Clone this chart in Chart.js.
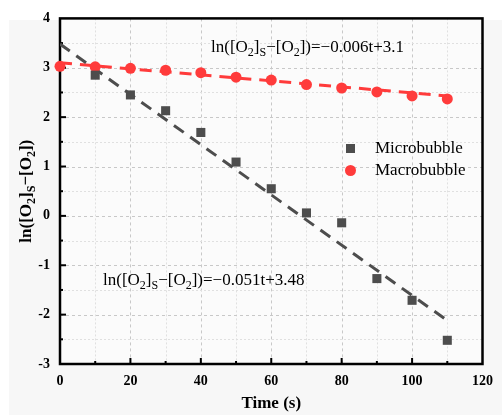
<!DOCTYPE html>
<html>
<head>
<meta charset="utf-8">
<script src="https://cdn.jsdelivr.net/npm/chart.js@4"></script>
<style>
  body { margin: 0; background: #ffffff; }
  canvas { display: block; }
</style>
</head>
<body>
<canvas id="chart" width="502" height="415"></canvas>
<script>
// values
const microTimes = [10, 20, 30, 40, 50, 60, 70, 80, 90, 100, 110];
const microValues = [2.85, 2.45, 2.13, 1.69, 1.09, 0.55, 0.06, -0.14, -1.27, -1.71, -2.52];
const macroTimes = [0, 10, 20, 30, 40, 50, 60, 70, 80, 90, 100, 110];
const macroValues = [3.03, 3.02, 2.99, 2.95, 2.90, 2.81, 2.75, 2.66, 2.59, 2.51, 2.43, 2.37];
const fitTimes = [0, 110];
const microFit = [3.48, -2.12];
const macroFit = [3.1, 2.43];
const seriesNames = ['Microbubble', 'Macrobubble'];

const SERIF = '"Liberation Serif", "Times New Roman", serif';
const GRAY = '#4d4d4d';
const RED = '#ff3b3b';

function pts(xs, ys) {
    return xs.map((x, i) => ({ x: x, y: ys[i] }));
}

// text with subscripts: parts = [[text, isSub], ...]
function richWidth(ctx, parts, size, weight) {
    let w = 0;
    parts.forEach(p => {
        ctx.font = weight + ' ' + (p[1] ? Math.round(size * 0.68) : size) + 'px ' + SERIF;
        w += ctx.measureText(p[0]).width;
    });
    return w;
}
function drawRich(ctx, x, y, parts, size, weight) {
    ctx.textBaseline = 'alphabetic';
    ctx.textAlign = 'left';
    parts.forEach(p => {
        const s = p[1] ? Math.round(size * 0.68) : size;
        ctx.font = weight + ' ' + s + 'px ' + SERIF;
        ctx.fillText(p[0], x, p[1] ? y + size * 0.25 : y);
        x += ctx.measureText(p[0]).width;
    });
}

const labelParts = [['ln([O', 0], ['2', 1], [']', 0], ['S', 1], ['\u2212[O', 0], ['2', 1], ['])', 0]];
const macroEq = [['ln([O', 0], ['2', 1], [']', 0], ['S', 1], ['\u2212[O', 0], ['2', 1], ['])=\u22120.006t+3.1', 0]];
const microEq = [['ln([O', 0], ['2', 1], [']', 0], ['S', 1], ['\u2212[O', 0], ['2', 1], ['])=\u22120.051t+3.48', 0]];

const decor = {
    id: 'decor',
    beforeDraw(chart) {
        const ctx = chart.ctx;
        const a = chart.chartArea;
        const xs = chart.scales.x, ys = chart.scales.y;
        ctx.save();
        ctx.fillStyle = '#ffffff';
        ctx.fillRect(0, 0, chart.width, chart.height);
        ctx.fillStyle = '#f7f7f7';
        ctx.fillRect(9, 20, chart.width - 9, chart.height - 20);
        ctx.fillStyle = '#fbfbfb';
        ctx.fillRect(a.left, a.top, a.right - a.left, a.bottom - a.top);
        // grid
        ctx.lineWidth = 1;
        for (let v = 10; v < 120; v += 10) {
            const px = Math.round(xs.getPixelForValue(v)) + 0.5;
            ctx.strokeStyle = v % 20 === 0 ? '#c8c8c8' : '#e0e0e0';
            ctx.setLineDash(v % 20 === 0 ? [3, 3] : [2, 2]);
            ctx.beginPath(); ctx.moveTo(px, a.top); ctx.lineTo(px, a.bottom); ctx.stroke();
        }
        for (let v = -2.5; v < 4; v += 0.5) {
            const py = Math.round(ys.getPixelForValue(v)) + 0.5;
            ctx.strokeStyle = Number.isInteger(v) ? '#c8c8c8' : '#e0e0e0';
            ctx.setLineDash(Number.isInteger(v) ? [3, 3] : [2, 2]);
            ctx.beginPath(); ctx.moveTo(a.left, py); ctx.lineTo(a.right, py); ctx.stroke();
        }
        ctx.restore();
    },
    beforeDatasetsDraw(chart) {
        const ctx = chart.ctx;
        const a = chart.chartArea;
        const xs = chart.scales.x, ys = chart.scales.y;
        ctx.save();
        // frame
        ctx.strokeStyle = '#000';
        ctx.lineWidth = 2.5;
        ctx.strokeRect(a.left, a.top, a.right - a.left, a.bottom - a.top);
        // inward ticks
        ctx.lineWidth = 2;
        for (let v = 10; v < 120; v += 10) {
            const px = xs.getPixelForValue(v);
            const len = v % 20 === 0 ? 6 : 3;
            ctx.beginPath(); ctx.moveTo(px, a.bottom); ctx.lineTo(px, a.bottom - len); ctx.stroke();
        }
        for (let v = -2.5; v < 4; v += 0.5) {
            const py = ys.getPixelForValue(v);
            const len = Number.isInteger(v) ? 6 : 3;
            ctx.beginPath(); ctx.moveTo(a.left, py); ctx.lineTo(a.left + len, py); ctx.stroke();
        }
        ctx.restore();
    },
    afterDraw(chart) {
        const ctx = chart.ctx;
        const a = chart.chartArea;
        ctx.save();
        // axis titles
        ctx.fillStyle = '#000';
        ctx.font = 'bold 17px ' + SERIF;
        ctx.textAlign = 'center';
        ctx.textBaseline = 'alphabetic';
        ctx.fillText('Time (s)', (a.left + a.right) / 2, 408);
        const w = richWidth(ctx, labelParts, 17, 'bold');
        ctx.save();
        ctx.translate(31, (a.top + a.bottom) / 2);
        ctx.rotate(-Math.PI / 2);
        drawRich(ctx, -w / 2, 0, labelParts, 17, 'bold');
        ctx.restore();
        // equations
        drawRich(ctx, 211, 52, macroEq, 17, 'normal');
        drawRich(ctx, 103, 285, microEq, 17, 'normal');
        // legend
        ctx.fillStyle = GRAY;
        ctx.fillRect(346, 144, 9, 9);
        ctx.fillStyle = RED;
        ctx.beginPath(); ctx.arc(350.5, 170.5, 5.5, 0, Math.PI * 2); ctx.fill();
        ctx.fillStyle = '#000';
        ctx.font = '17px ' + SERIF;
        ctx.textAlign = 'left';
        ctx.textBaseline = 'middle';
        ctx.fillText(seriesNames[0], 375, 149);
        ctx.fillText(seriesNames[1], 375, 171);
        ctx.restore();
    }
};

new Chart(document.getElementById('chart'), {
    type: 'scatter',
    data: {
        datasets: [
            {
                label: seriesNames[0],
                data: pts(microTimes, microValues),
                pointStyle: 'rect',
                pointRadius: 6.4,
                backgroundColor: GRAY,
                borderWidth: 0,
                clip: false,
                order: 1
            },
            {
                label: seriesNames[1],
                data: pts(macroTimes, macroValues),
                pointStyle: 'circle',
                pointRadius: 5.5,
                backgroundColor: RED,
                borderWidth: 0,
                clip: false,
                order: 2
            },
            {
                label: 'micro fit',
                data: pts(fitTimes, microFit),
                showLine: true,
                pointRadius: 0,
                borderColor: GRAY,
                borderWidth: 3,
                borderDash: [12, 8],
                order: 3
            },
            {
                label: 'macro fit',
                data: pts(fitTimes, macroFit),
                showLine: true,
                pointRadius: 0,
                borderColor: RED,
                borderWidth: 3,
                borderDash: [12, 8],
                order: 4
            }
        ]
    },
    options: {
        responsive: false,
        animation: false,
        layout: { padding: { left: 0, right: 11, top: 16, bottom: 0 } },
        plugins: { legend: { display: false }, tooltip: { enabled: false } },
        scales: {
            x: {
                type: 'linear',
                min: 0, max: 120,
                grid: { display: false, drawTicks: false },
                border: { display: false },
                afterFit: s => { s.height = 51; },
                ticks: {
                    stepSize: 10,
                    autoSkip: false,
                    maxRotation: 0,
                    padding: 9,
                    color: '#000',
                    font: { family: SERIF, size: 14, weight: 'bold' },
                    callback: v => (v % 20 === 0 ? v : '')
                }
            },
            y: {
                min: -3, max: 4,
                grid: { display: false, drawTicks: false },
                border: { display: false },
                afterFit: s => { s.width = 60; },
                ticks: {
                    stepSize: 0.5,
                    autoSkip: false,
                    padding: 10,
                    color: '#000',
                    font: { family: SERIF, size: 14, weight: 'bold' },
                    callback: v => (Number.isInteger(v) ? v : '')
                }
            }
        }
    },
    plugins: [decor]
});
</script>
</body>
</html>
